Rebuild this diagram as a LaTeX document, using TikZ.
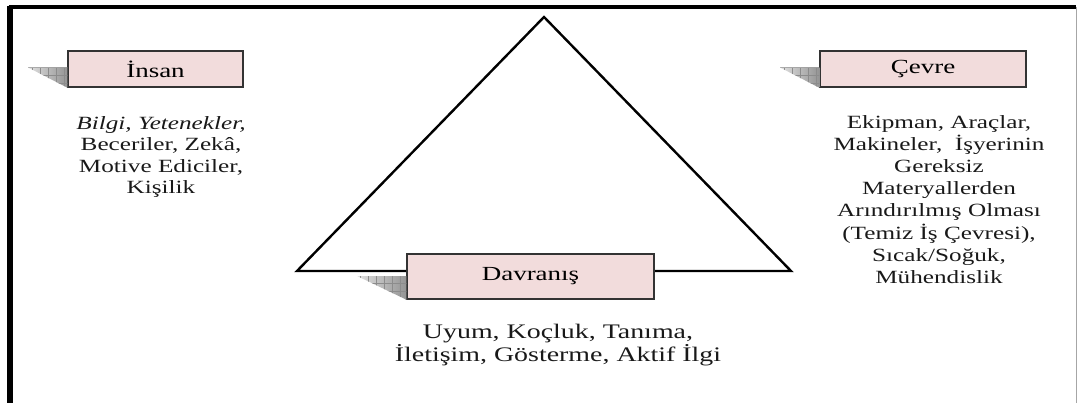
\documentclass[tikz,border=0pt]{standalone}
\usepackage{fontspec}
\setmainfont{Liberation Serif}[FakeStretch=1.35]
\usetikzlibrary{patterns.meta}
\definecolor{boxpink}{RGB}{242,220,220}
\tikzset{
    factorbox/.style={draw=black!80, line width=1.1pt, fill=boxpink, inner sep=0pt,
        minimum height=27pt, font=\fontsize{15}{18}\selectfont},
    factortext/.style={align=center, text=black!90, font=\fontsize{14}{16.6}\selectfont},
}

\begin{document}
\begin{tikzpicture}[x=0.75pt, y=-0.75pt]
            \useasboundingbox (0,0) rectangle (1077,403);

            \draw[line width=2.8pt] (8.5,7) to (1076,7);
            \draw[line width=3.8pt] (10,5.6) to (10,403);
            \draw[black!35, line width=0.75pt] (1076,7) to (1076,403);

            \coordinate (apex) at (544,17);
            \coordinate (baseL) at (297,271);
            \coordinate (baseR) at (791,271);
            \draw[line width=1.8pt, line join=miter] (apex) -- (baseR) -- (baseL) -- cycle;

            \node[factorbox, minimum width=131pt] (insan) at (155.5,69) {İnsan};
            \node[factorbox, minimum width=154.5pt] (cevre) at (923,69) {Çevre};
            \node[factorbox, minimum width=185pt, minimum height=33.75pt] (davranis) at (530.5,276.5) {Davranış};

            \coordinate (insanTip) at (28,67.5);
            \coordinate (cevreTip) at (780,67.5);
            \coordinate (davranisTip) at (357,276);

            \foreach \fac in {insan, cevre, davranis}{
                \shade[left color=black!12, right color=black!42]
                    (\fac Tip) -- (\fac.west |- \fac Tip) -- (\fac.south west) -- cycle;
                \fill[pattern={Hatch[distance=6pt, angle=0, line width=0.45pt]}, pattern color=black!45]
                    (\fac Tip) -- (\fac.west |- \fac Tip) -- (\fac.south west) -- cycle;
            }

            \node[factortext, font=\fontsize{14}{15.8}\selectfont] (insanText) at (161,157)
                {{\itshape Bilgi, Yetenekler,}\\Beceriler, Zekâ,\\Motive Ediciler,\\Kişilik};
            \node[factortext] (cevreText) at (939,199.5)
                {Ekipman, Araçlar,\\Makineler, \ İşyerinin\\Gereksiz\\Materyallerden\\Arındırılmış Olması\\(Temiz İş Çevresi),\\Sıcak/Soğuk,\\Mühendislik};
            \node[factortext, font=\fontsize{15.5}{17}\selectfont] (davranisText) at (558,345)
                {Uyum, Koçluk, Tanıma,\\İletişim, Gösterme, Aktif İlgi};
\end{tikzpicture}
\end{document}
